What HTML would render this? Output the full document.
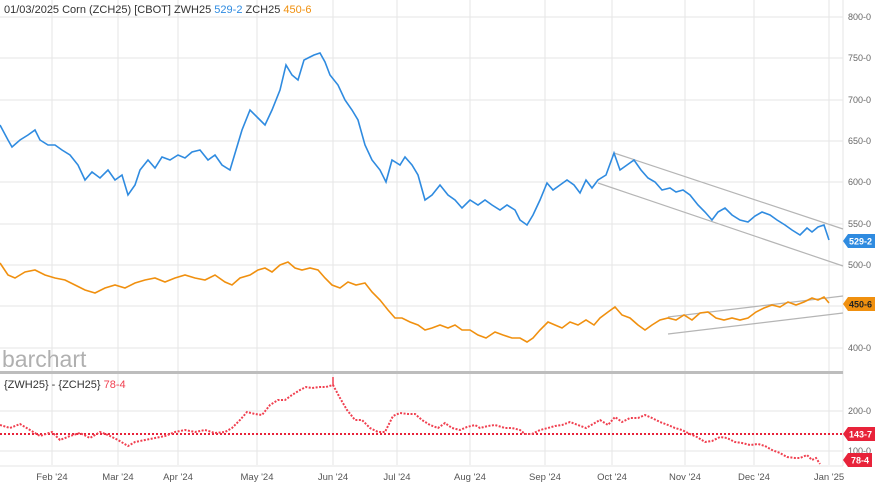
<!DOCTYPE html>
<html><head><style>
body{margin:0;background:#fff;}
svg{display:block;font-family:"Liberation Sans",sans-serif;}
</style></head><body>
<svg width="877" height="487" viewBox="0 0 877 487">
<rect width="877" height="487" fill="#fff"/>
<g stroke="#e6e6e6" stroke-width="1">
<line x1="0" y1="17" x2="843" y2="17"/><line x1="0" y1="58" x2="843" y2="58"/><line x1="0" y1="100" x2="843" y2="100"/><line x1="0" y1="141" x2="843" y2="141"/><line x1="0" y1="182" x2="843" y2="182"/><line x1="0" y1="224" x2="843" y2="224"/><line x1="0" y1="265" x2="843" y2="265"/><line x1="0" y1="306" x2="843" y2="306"/><line x1="0" y1="348" x2="843" y2="348"/>
<line x1="0" y1="411" x2="843" y2="411"/><line x1="0" y1="451" x2="843" y2="451"/>
<line x1="52" y1="0" x2="52" y2="465"/><line x1="118" y1="0" x2="118" y2="465"/><line x1="178" y1="0" x2="178" y2="465"/><line x1="257" y1="0" x2="257" y2="465"/><line x1="333" y1="0" x2="333" y2="465"/><line x1="397" y1="0" x2="397" y2="465"/><line x1="470" y1="0" x2="470" y2="465"/><line x1="545" y1="0" x2="545" y2="465"/><line x1="612" y1="0" x2="612" y2="465"/><line x1="685" y1="0" x2="685" y2="465"/><line x1="754" y1="0" x2="754" y2="465"/><line x1="829" y1="0" x2="829" y2="465"/>
<line x1="843" y1="0" x2="843" y2="466"/>
<line x1="0" y1="466" x2="843" y2="466"/>
</g>
<rect x="0" y="371" width="843" height="3" fill="#bdbdbd"/>
<text x="2" y="367" font-size="23" fill="#b0b0b0">barchart</text>
<g font-size="9" fill="#666">
<text x="848" y="20">800-0</text><text x="848" y="61">750-0</text><text x="848" y="103">700-0</text><text x="848" y="144">650-0</text><text x="848" y="185">600-0</text><text x="848" y="227">550-0</text><text x="848" y="268">500-0</text><text x="848" y="351">400-0</text>
<text x="848" y="414">200-0</text><text x="848" y="454">100-0</text>
</g>
<g font-size="9.5" fill="#555" text-anchor="middle">
<text x="52" y="480">Feb '24</text><text x="118" y="480">Mar '24</text><text x="178" y="480">Apr '24</text><text x="257" y="480">May '24</text><text x="333" y="480">Jun '24</text><text x="397" y="480">Jul '24</text><text x="470" y="480">Aug '24</text><text x="545" y="480">Sep '24</text><text x="612" y="480">Oct '24</text><text x="685" y="480">Nov '24</text><text x="754" y="480">Dec '24</text><text x="829" y="480">Jan '25</text>
</g>
<g stroke="#b5b5b5" stroke-width="1.2">
<line x1="614" y1="153" x2="843" y2="229"/><line x1="598" y1="183" x2="843" y2="266"/>
<line x1="668" y1="317" x2="843" y2="296"/><line x1="668" y1="334" x2="843" y2="313"/>
</g>
<polyline fill="none" stroke="#2f8be0" stroke-width="1.6" points="0,125 8,140 12,147 20,140 28,135 35,130 40,140 48,145 55,145 62,150 70,155 78,165 85,180 92,172 100,178 108,170 115,180 122,175 128,195 135,185 140,170 148,160 155,168 162,157 170,160 178,155 185,158 192,152 200,150 208,160 215,155 222,165 230,170 236,150 242,130 250,110 258,118 265,125 272,110 280,90 286,65 292,75 298,80 304,60 308,58 314,55 320,53 325,62 330,75 338,85 345,100 352,110 358,120 365,145 372,160 380,170 386,182 392,160 400,165 405,157 412,165 418,175 425,200 432,195 440,185 448,195 455,200 462,208 470,200 478,205 485,200 492,205 500,210 507,205 515,210 520,220 527,225 533,215 540,200 547,183 553,190 560,185 567,180 574,185 580,193 586,180 592,188 598,180 606,175 614,153 620,170 627,165 634,160 641,170 648,178 655,182 662,190 670,188 676,192 683,190 690,195 698,205 705,212 712,220 718,212 725,208 732,215 740,220 748,222 755,216 762,212 770,215 777,220 785,225 792,230 800,235 807,228 812,232 818,227 824,225 829,240"/>
<polyline fill="none" stroke="#f0900f" stroke-width="1.6" points="0,263 8,275 15,278 25,272 35,270 45,275 55,278 65,280 75,285 85,290 95,293 105,288 115,285 125,288 135,283 145,280 155,278 165,282 175,278 185,275 195,278 205,280 215,275 225,282 232,285 240,278 250,275 258,270 265,268 272,272 280,265 288,262 295,268 302,270 310,268 318,270 325,278 332,285 340,288 348,282 356,285 365,283 372,292 380,300 388,310 395,318 402,318 410,322 418,325 425,330 432,328 440,325 448,328 455,325 462,330 470,330 478,335 486,338 495,332 503,335 512,338 520,338 527,342 533,338 540,330 548,322 555,325 562,328 570,322 578,325 586,320 594,325 600,318 608,312 615,307 622,315 630,318 638,325 645,330 652,325 660,320 668,318 676,320 684,315 692,320 700,313 708,312 716,318 724,320 732,318 740,320 748,318 756,312 764,308 772,305 780,307 788,302 796,305 804,302 812,298 818,300 824,297 829,303"/>
<line x1="0" y1="434" x2="843" y2="434" stroke="#e8233a" stroke-width="2" stroke-dasharray="2,2"/>
<polyline fill="none" stroke="#f04050" stroke-width="2" stroke-dasharray="2,1.5" points="0,425 10,428 20,424 30,430 40,436 52,432 60,440 70,436 80,433 90,438 100,432 108,435 118,440 128,446 135,442 145,440 155,438 165,436 175,432 185,430 195,432 205,430 215,433 225,432 232,428 240,420 247,412 255,414 262,415 270,405 278,400 285,400 292,395 300,390 306,387 312,388 320,387 326,387 333,385 340,398 347,410 355,420 362,420 370,428 378,432 385,432 393,416 400,413 408,414 415,414 422,420 430,425 438,428 445,423 452,428 460,430 467,427 475,425 480,428 488,426 495,425 505,428 512,428 520,430 525,434 532,434 540,430 548,428 555,426 562,425 570,422 578,425 586,428 593,424 600,420 608,425 615,417 622,422 630,418 638,418 645,415 652,418 660,422 668,425 675,428 682,430 690,434 697,437 705,442 712,441 720,437 727,438 735,442 742,443 750,445 758,444 765,446 772,450 780,453 787,457 795,458 800,458 807,455 812,460 816,458 820,464"/>
<line x1="333" y1="377" x2="333" y2="386" stroke="#f04050" stroke-width="1.5"/>
<g font-size="9" font-weight="bold">
<path d="M843,241 L848,234 L875,234 L875,248 L848,248 Z" fill="#2f8be0"/><text x="849" y="244.5" fill="#fff">529-2</text>
<path d="M843,304 L848,297 L875,297 L875,311 L848,311 Z" fill="#f0900f"/><text x="849" y="307.5" fill="#222">450-6</text>
<path d="M843,434 L848,427 L875,427 L875,441 L848,441 Z" fill="#e8233a"/><text x="849" y="437.5" fill="#fff">143-7</text>
<path d="M843,460 L848,453 L872,453 L872,467 L848,467 Z" fill="#e8233a"/><text x="851" y="463.5" fill="#fff">78-4</text>
</g>
<text x="4" y="13" font-size="11" fill="#333">01/03/2025 Corn (ZCH25) [CBOT] ZWH25 <tspan fill="#2f8be0">529-2</tspan> ZCH25 <tspan fill="#f0900f">450-6</tspan></text>
<text x="4" y="388" font-size="11" fill="#333">{ZWH25} - {ZCH25} <tspan fill="#f04050">78-4</tspan></text>
</svg>
</body></html>
